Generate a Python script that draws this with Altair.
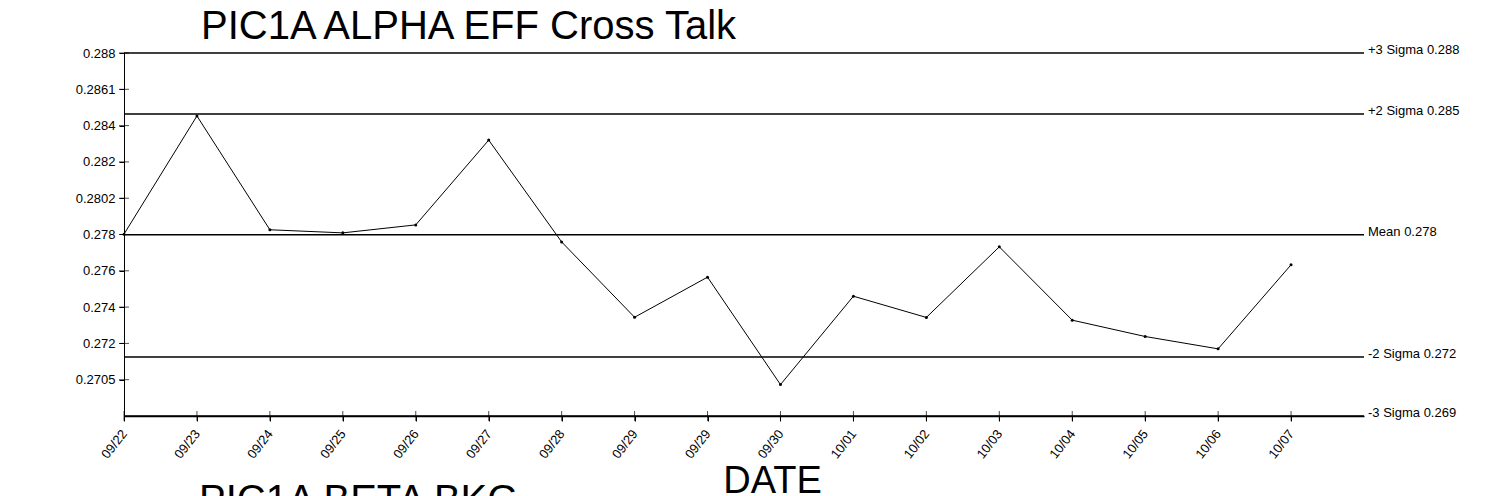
import altair as alt
import pandas as pd

# ---- data ----
dates = ["09/22", "09/23", "09/24", "09/25", "09/26", "09/27", "09/28", "09/29",
         "09/29", "09/30", "10/01", "10/02", "10/03", "10/04", "10/05", "10/06", "10/07"]
values = [0.27802, 0.28453, 0.27826, 0.27809, 0.27853, 0.28320, 0.27759, 0.27344,
          0.27565, 0.26973, 0.27460, 0.27343, 0.27732, 0.27328, 0.27238, 0.27170, 0.27633]
limit_names = ["+3 Sigma 0.288", "+2 Sigma 0.285", "Mean 0.278", "-2 Sigma 0.272", "-3 Sigma 0.269"]
limit_values = [0.288, 0.28464, 0.27798, 0.27125, 0.268]
y_tick_values = [0.288, 0.286, 0.284, 0.282, 0.280, 0.278, 0.276, 0.274, 0.272, 0.270]
y_tick_labels = ["0.288", "0.2861", "0.284", "0.282", "0.2802", "0.278", "0.276", "0.274", "0.272", "0.2705"]
title_text = "PIC1A ALPHA EFF Cross Talk"
x_title = "DATE"
next_title = "PIC1A BETA BKG"

FONT = "Liberation Sans"

df = pd.DataFrame({"i": list(range(len(dates))), "date": dates, "v": values})
lim = pd.DataFrame({"name": limit_names, "v": limit_values})
yt = pd.DataFrame({"v": y_tick_values})
ttl = pd.DataFrame({"t": [title_text]})
nxt = pd.DataFrame({"t": [next_title]})

x_label_expr = "[" + ",".join(f"'{d}'" for d in dates) + "][datum.value]"
y_label_expr = ("[" + ",".join(f"'{l}'" for l in y_tick_labels) + "]"
                "[round((0.288 - datum.value) / 0.002)]")

xscale = alt.Scale(domain=[0, 17], nice=False, zero=False)
yscale = alt.Scale(domain=[0.268, 0.288], nice=False, zero=False)

x_axis = alt.Axis(values=list(range(len(dates))), labelExpr=x_label_expr,
                  labelAngle=-52, labelAlign="right", labelBaseline="middle",
                  labelPadding=10, tickSize=5, grid=False, domainWidth=1.5,
                  title=x_title, titleFont=FONT, titleFontSize=38,
                  titleFontWeight="normal", titleX=648, titleY=76,
                  titleAlign="center", titleBaseline="alphabetic", titleColor="black")
y_axis = alt.Axis(values=y_tick_values, labelExpr=y_label_expr, tickSize=5,
                  labelPadding=4, grid=False, title=None)

line = alt.Chart(df).mark_line(color="black", strokeWidth=1).encode(
    x=alt.X("i:Q", scale=xscale, axis=x_axis),
    y=alt.Y("v:Q", scale=yscale, axis=y_axis),
)
pts = alt.Chart(df).mark_point(filled=True, color="black", size=9, opacity=1).encode(
    x=alt.X("i:Q", scale=xscale),
    y=alt.Y("v:Q", scale=yscale),
)
rules = alt.Chart(lim).mark_rule(color="black", strokeWidth=1.5).encode(
    y=alt.Y("v:Q", scale=yscale),
)
rule_labels = alt.Chart(lim).mark_text(align="left", baseline="alphabetic", dx=4, dy=1,
                                       font=FONT, fontSize=13, color="black").encode(
    x=alt.datum(17),
    y=alt.Y("v:Q", scale=yscale),
    text="name:N",
)
y_ticks_in = alt.Chart(yt).mark_tick(color="black", thickness=1, size=10,
                                     orient="horizontal").encode(
    y=alt.Y("v:Q", scale=yscale),
    x=alt.datum(0),
)
x_ticks_in = alt.Chart(df).mark_tick(color="black", thickness=1, size=10,
                                     orient="vertical").encode(
    x=alt.X("i:Q", scale=xscale),
    y=alt.datum(0.268),
)
title_mark = alt.Chart(ttl).mark_text(align="left", baseline="alphabetic", font=FONT,
                                      fontSize=40, color="black").encode(
    x=alt.value(77), y=alt.value(-14.5), text="t:N",
)
next_label = alt.Chart(nxt).mark_text(align="left", baseline="alphabetic", font=FONT,
                                      fontSize=40, color="black").encode(
    x=alt.value(75), y=alt.value(460), text="t:N",
)

chart = alt.layer(rules, line, pts, rule_labels, y_ticks_in, x_ticks_in,
                  title_mark, next_label).properties(
    width=1240,
    height=363,
    autosize=alt.AutoSizeParams(type="none"),
    padding={"left": 116, "top": 45, "right": 115, "bottom": 80},
).configure_view(stroke=None).configure_axis(
    domainColor="black", tickColor="black", labelColor="black",
    labelFont=FONT, labelFontSize=13,
)

chart.save("out.html", embed_options={"renderer": "svg", "actions": False})
